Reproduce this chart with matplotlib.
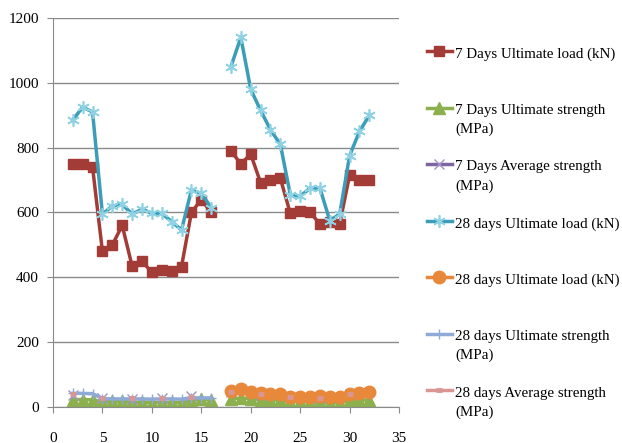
import numpy as np
import matplotlib.pyplot as plt
from matplotlib.legend_handler import HandlerLine2D

nan = np.nan

# specimen number (17 left empty between the two mixes)
specimen = list(range(2, 33))

load_7d = [750, 750, 740, 480, 500, 560, 435, 450, 415, 422, 418, 433, 600, 640, 600, nan,
           790, 750, 780, 692, 700, 705, 598, 605, 600, 565, 570, 565, 715, 700, 700]
strength_7d = [23, 23, 22, 16, 17, 18, 14, 15, 13, 14, 14, 13, 22, 24, 22, nan,
               26, 27, 26, 21, 21, 22, 16, 16, 17, 14, 14, 13, 21, 22, 21]
avg_7d = [38, nan, nan, 27, nan, nan, 26, nan, nan, 27, nan, nan, 35, nan, nan, nan,
          45, nan, nan, 38, nan, nan, 30, nan, nan, 28, nan, nan, 40, nan, nan]
load_28d = [885, 925, 910, 595, 620, 625, 595, 610, 598, 597, 572, 546, 669, 659, 615, nan,
            1050, 1140, 980, 915, 855, 810, 655, 650, 675, 675, 575, 595, 775, 850, 900]
load_28d_b = [nan] * 16 + [48, 55, 45, 43, 40, 41, 32, 32, 32, 33, 30, 30, 41, 43, 45]
strength_28d = [42, 42, 41, 26, 25, 25, 25, 25, 24, 25, 25, 24, 29, 28, 28] + [nan] * 16
avg_28d = [41, nan, nan, 29, nan, nan, 27, nan, nan, 27, nan, nan, 32, nan, nan, nan,
           47, nan, nan, 39, nan, nan, 31, nan, nan, 29, nan, nan, 39, nan, nan]

labels = ['7 Days Ultimate load (kN)\n ',
          '7 Days Ultimate strength\n(MPa)',
          '7 Days Average strength\n(MPa)',
          '28 days Ultimate load (kN)\n ',
          '28 days Ultimate load (kN)\n ',
          '28 days Ultimate strength\n(MPa)',
          '28 days Average strength\n(MPa)']


class FirstLineHandler(HandlerLine2D):
    # put the legend handle level with the first line of its label
    def create_artists(self, legend, orig_handle, xdescent, ydescent,
                       width, height, fontsize, trans):
        lift = 0.8 * fontsize
        return super().create_artists(legend, orig_handle, xdescent, ydescent - 2 * lift,
                                      width, height, fontsize, trans)


plt.rcParams['font.family'] = ['Liberation Serif', 'DejaVu Serif']

fig = plt.figure(figsize=(6.22, 4.43), dpi=100)
ax = fig.add_axes([0.0852, 0.0813, 0.5563, 0.8781])

ax.plot(specimen, load_7d, color='#A33B37', lw=2.5, marker='s', ms=7.5,
        label=labels[0])
ax.plot(specimen, strength_7d, color='#8CB04E', lw=2.5, marker='^', ms=8,
        label=labels[1])
ax.plot(specimen, avg_7d, color='#8064A2', lw=2.5, marker='x', ms=7,
        mec='#A493C8', mew=1, label=labels[2])
ax.plot(specimen, load_28d, color='#3C9DB8', lw=2.5, marker=(6, 2, 0), ms=9,
        mec='#8ED2E4', mew=1.2, label=labels[3])
ax.plot(specimen, load_28d_b, color='#E8883A', lw=2.5, marker='o', ms=9,
        label=labels[4])
ax.plot(specimen, strength_28d, color='#8FAAD6', lw=2.5, marker='+', ms=7,
        mew=1, label=labels[5])
ax.plot(specimen, avg_28d, color='#D99694', lw=2.5, marker='_', ms=5,
        mew=3.5, label=labels[6])

ax.set_xlim(0, 35)
ax.set_ylim(0, 1200)
ax.set_xticks(range(0, 36, 5))
ax.set_yticks(range(0, 1201, 200))
ax.grid(axis='y', color='#8A8A8A', lw=1)
ax.set_axisbelow(True)
for side in ['top', 'right']:
    ax.spines[side].set_visible(False)
for side in ['left', 'bottom']:
    ax.spines[side].set_color('#8A8A8A')
ax.tick_params(axis='both', direction='out', length=4, color='#8A8A8A',
               labelsize=11)
ax.tick_params(axis='x', pad=14)
ax.tick_params(axis='y', pad=6)

leg = fig.legend(loc='upper left', bbox_to_anchor=(0.686, 0.893), frameon=False,
                 fontsize=10.8, handlelength=1.7, handletextpad=0.2,
                 labelspacing=1.63, borderpad=0, borderaxespad=0,
                 handler_map={plt.Line2D: FirstLineHandler()})
for t in leg.get_texts():
    t.set_linespacing(1.55)

fig.savefig('out.png', dpi=100)
